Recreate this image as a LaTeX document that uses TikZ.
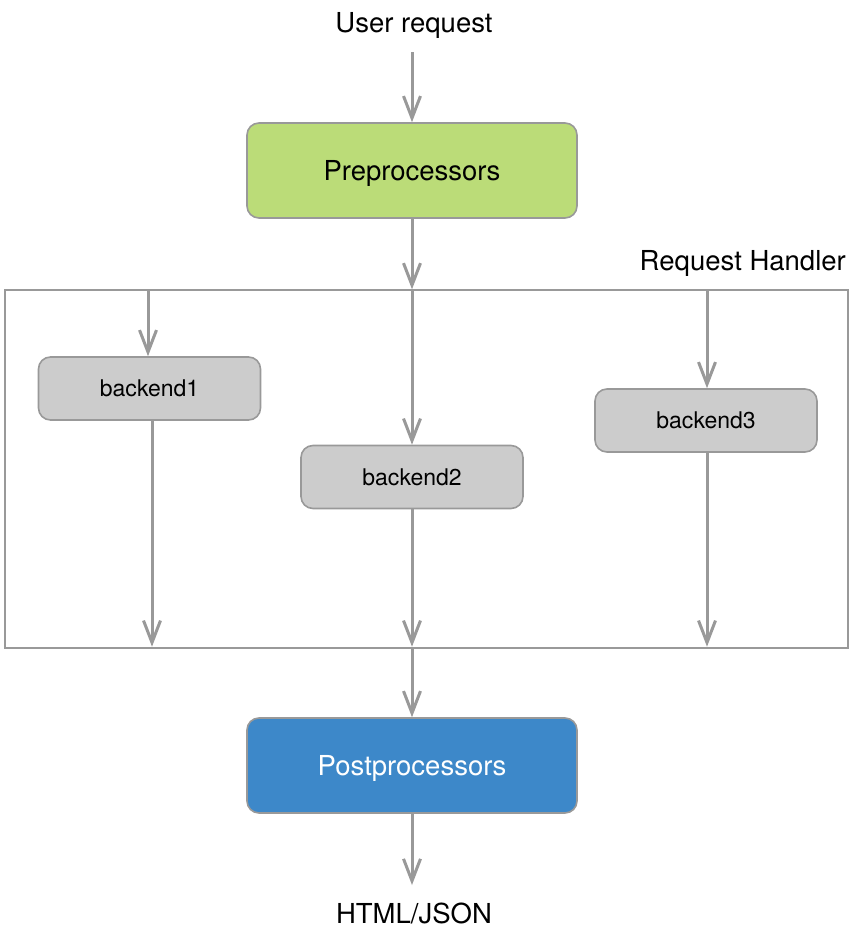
\documentclass[tikz,border=0pt]{standalone}
\usepackage{fontspec}
\setmainfont{TeX Gyre Heros}
\usetikzlibrary{arrows.meta}

\definecolor{edgegray}{HTML}{999999}
\definecolor{pregreen}{HTML}{BBDC78}
\definecolor{postblue}{HTML}{3D88C9}
\definecolor{backgray}{HTML}{CCCCCC}

\tikzset{
  flow/.style={draw=edgegray, line width=3pt, -{Straight Barb[length=22pt,width=17pt]}},
  stagebox/.style={draw=edgegray, line width=1.6pt, rounded corners=12pt,
    minimum width=330pt, minimum height=95pt, text depth=0pt,
    font=\fontsize{27.5}{32}\selectfont},
  backbox/.style={draw=edgegray, fill=backgray, line width=1.6pt, rounded corners=12pt,
    minimum width=222pt, minimum height=63pt, text depth=0pt,
    font=\fontsize{23}{27}\selectfont},
  plainlabel/.style={font=\fontsize{27.5}{32}\selectfont, inner sep=0pt, text depth=0pt}
}

\begin{document}
\begin{tikzpicture}[x=1pt,y=-1pt]

    \useasboundingbox (0,0) rectangle (854,940);

    % labels at top and bottom
    \node[plainlabel] (user) at (414,22) {User request};
    \node[plainlabel] (html) at (414,913) {HTML/JSON};

    % main stages
    \node[stagebox, fill=pregreen] (pre) at (412,170.5) {Preprocessors};
    \node[stagebox, fill=postblue, text=white] (post) at (412,765.5) {Postprocessors};

    % request handler frame
    \node[draw=edgegray, line width=1.4pt, minimum width=843pt, minimum height=358pt,
      inner sep=0pt] (handler) at (426.5,469) {};
    \node[plainlabel, anchor=east] (hlabel) at (846,260) {Request Handler};

    % backends
    \node[backbox] (b1) at (149.5,388.5) {backend1};
    \node[backbox] (b2) at (412,477) {backend2};
    \node[backbox] (b3) at (706,420.5) {backend3};

    \coordinate (b1in) at (148,290);
    \coordinate (b2in) at (412,290);
    \coordinate (b3in) at (707,290);
    \coordinate (b1out) at (152,420);

    % connectors
    \draw[flow] (412,52) -- (pre.north);
    \draw[flow] (pre.south) -- (pre.south |- handler.north);

    \draw[flow] (b1in) -- (b1in |- b1.north);
    \draw[flow] (b2in) -- (b2.north);
    \draw[flow] (b3in) -- (b3in |- b3.north);

    \draw[flow, shorten >=2pt] (b1out) -- (b1out |- handler.south);
    \draw[flow, shorten >=2pt] (b2.south) -- (b2.south |- handler.south);
    \draw[flow, shorten >=2pt] (b3.south -| b3in) -- (b3in |- handler.south);

    \draw[flow] (pre.south |- handler.south) -- (post.north);
    \draw[flow] (post.south) -- (412,885);

  \end{tikzpicture}
\end{document}
